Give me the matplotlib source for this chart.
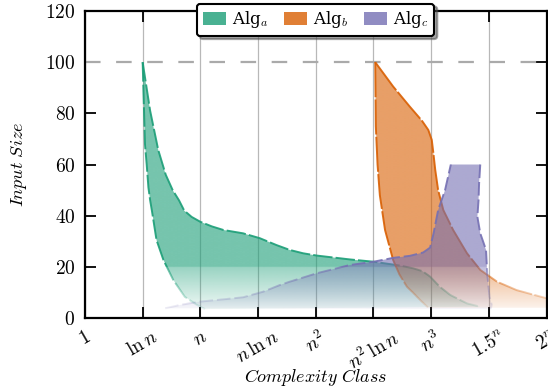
import numpy as np
import matplotlib.pyplot as plt
from matplotlib.patches import Polygon, Patch
from matplotlib.transforms import Bbox, TransformedBbox

plt.rcParams['mathtext.fontset'] = 'cm'
plt.rcParams['font.family'] = ['DejaVu Serif']

# categorie sull'asse x
classes = [r'$1$', r'$\ln n$', r'$n$', r'$n\,\ln n$', r'$n^2$',
           r'$n^2\,\ln n$', r'$n^3$', r'$1.5^n$', r'$2^n$']
yticks = [0, 20, 40, 60, 80, 100, 120]

# Alg_a (bordo sinistro e bordo destro)
a_left_x = [1.0, 1.02, 1.04, 1.07, 1.10, 1.13, 1.16, 1.24, 1.36, 1.53, 1.73, 1.94, 2.08]
a_left_y = [100, 84, 68, 60, 51, 46, 42, 30.5, 22.7, 14.9, 8.3, 5.1, 3.5]
a_right_x = [1.0, 1.13, 1.27, 1.40, 1.52, 1.63, 1.72, 1.85, 2.0, 2.2, 2.4, 2.74, 3.03,
             3.32, 3.55, 3.78, 4.02, 4.59, 5.0, 5.46, 5.69, 5.85, 5.98, 6.15, 6.33, 6.62, 6.85]
a_right_y = [100, 81, 65.7, 56, 50, 46, 42, 39.5, 37.6, 35.8, 34.4, 33.1, 31.2,
             28.5, 26.6, 25.3, 24.4, 22.9, 22, 20.5, 19.4, 18.3, 16.2, 12.2, 9, 5.7, 4.4]

# Alg_b
b_left_x = [5.03, 5.04, 5.07, 5.11, 5.2, 5.34, 5.45, 5.58, 5.69, 5.81, 5.95]
b_left_y = [100, 75, 60, 48, 34.4, 22.7, 17, 12.2, 9.8, 7, 4]
b_right_x = [5.03, 5.34, 5.63, 5.84, 5.95, 6.01, 6.04, 6.07, 6.12, 6.21, 6.38,
             6.62, 6.85, 7.14, 7.48, 8.0]
b_right_y = [100, 90.5, 82.6, 77.1, 73.5, 69.6, 64, 57.9, 50, 42.2, 34.4,
             25.3, 18.8, 14.2, 10.9, 7.7]

# Alg_c
c_left_x = [1.39, 1.65, 1.99, 2.40, 2.74, 3.09, 3.38, 3.55, 4.02, 4.59, 5.0, 5.34,
            5.63, 5.86, 5.98, 6.04, 6.12, 6.24, 6.34]
c_left_y = [3.8, 5.1, 6.4, 7.3, 8.1, 10.3, 12.9, 14.2, 17.5, 20.7, 22, 23.5,
            24.3, 25.6, 27.5, 33, 42.2, 50, 60]
c_right_x = [6.85, 6.83, 6.82, 6.80, 6.85, 6.95, 6.97, 7.01, 7.05, 7.03]
c_right_y = [60, 52.7, 46, 39.6, 33.1, 26.6, 17.5, 8.3, 5.1, 3.5]

colors = ['#1b9e77', '#d95f02', '#7570b3']
labels = [r'Alg$_a$', r'Alg$_b$', r'Alg$_c$']


def fade(y):
    # sotto 20 il colore sfuma verso il bianco
    f = np.where(y >= 20, 1.0, 0.1 + 0.65 * (y - 3) / 17)
    return np.clip(f, 0, 1)


def faded_fill(ax, xs, ys, color, alpha, z):
    poly = Polygon(np.column_stack([xs, ys]), closed=True, transform=ax.transData)
    yy = np.linspace(0, 120, 1200)
    rgba = np.zeros((len(yy), 1, 4))
    rgba[..., :3] = plt.matplotlib.colors.to_rgb(color)
    rgba[:, 0, 3] = alpha * fade(yy)
    im = ax.imshow(rgba, extent=[0, 8, 0, 120], origin='lower', aspect='auto',
                   interpolation='bilinear', zorder=z)
    im.set_clip_path(poly)


def faded_line(ax, x, y, color, z, dashes=(10, 1.6)):
    edges = [0] + list(np.arange(2, 20.5, 1.0)) + [130]
    for y0, y1 in zip(edges[:-1], edges[1:]):
        a = 0.9 * float(fade(np.array((y0 + y1) / 2)))
        ln, = ax.plot(x, y, color=color, alpha=a, lw=1.4, dashes=dashes, zorder=z)
        ln.set_clip_box(TransformedBbox(Bbox([[0, y0], [8, y1]]), ax.transData))


fig = plt.figure(figsize=(5.48, 3.89), dpi=100)
ax = fig.add_axes([0.155, 0.1825, 0.8425, 0.7892])

ax.axhline(100, color='#aaaaaa', lw=1.6, dashes=(7, 7), zorder=1)

# Alg_a
faded_fill(ax, a_left_x + a_right_x[::-1], a_left_y + a_right_y[::-1], colors[0], 0.6, 2)
faded_line(ax, a_left_x, a_left_y, colors[0], 2.1)
faded_line(ax, a_right_x, a_right_y, colors[0], 2.1)

# Alg_b
faded_fill(ax, b_left_x + [b_right_x[-1]] + b_right_x[::-1],
           b_left_y + [b_left_y[-1]] + b_right_y[::-1], colors[1], 0.6, 3)
faded_line(ax, b_left_x, b_left_y, colors[1], 3.1, dashes=(18, 1.2))
faded_line(ax, b_right_x, b_right_y, colors[1], 3.1, dashes=(18, 1.2))

# Alg_c
faded_fill(ax, c_left_x + c_right_x, c_left_y + c_right_y, colors[2], 0.6, 4)
faded_line(ax, c_left_x, c_left_y, colors[2], 4.1, dashes=(7, 2))
faded_line(ax, c_right_x, c_right_y, colors[2], 4.1, dashes=(7, 2))

ax.set_xlim(0, 8)
ax.set_ylim(0, 120)
ax.set_xticks(range(len(classes)))
ax.set_xticklabels(classes, rotation=30, ha='center')
ax.set_yticks(yticks)
ax.set_yticklabels([f'${v}$' for v in yticks])
ax.xaxis.grid(True, color='#b8b8b8', lw=0.9, zorder=0)
ax.set_axisbelow(True)
ax.tick_params(direction='in', length=8, width=1.3, top=True, right=True,
               labelsize=14, pad=7)
for s in ax.spines.values():
    s.set_linewidth(1.6)
    s.set_zorder(6)

ax.set_xlabel(r'$\mathit{Complexity\ Class}$', fontsize=13)
ax.set_ylabel(r'$\mathit{Input\ Size}$', fontsize=13)
ax.xaxis.set_label_coords(0.5, -0.158)
ax.yaxis.set_label_coords(-0.122, 0.5)

handles = [Patch(facecolor=c, alpha=0.8, edgecolor='none') for c in colors]
leg = ax.legend(handles, labels, loc='upper center', bbox_to_anchor=(0.5, 1.024),
                borderaxespad=0, ncol=3, fontsize=12, frameon=True, fancybox=True,
                shadow=True, framealpha=1, edgecolor='black', handlelength=1.4,
                handleheight=0.8, handletextpad=0.35, columnspacing=0.9, borderpad=0.35)
leg.get_frame().set_linewidth(1.5)
leg.set_zorder(10)

fig.savefig('out.png', dpi=100)
